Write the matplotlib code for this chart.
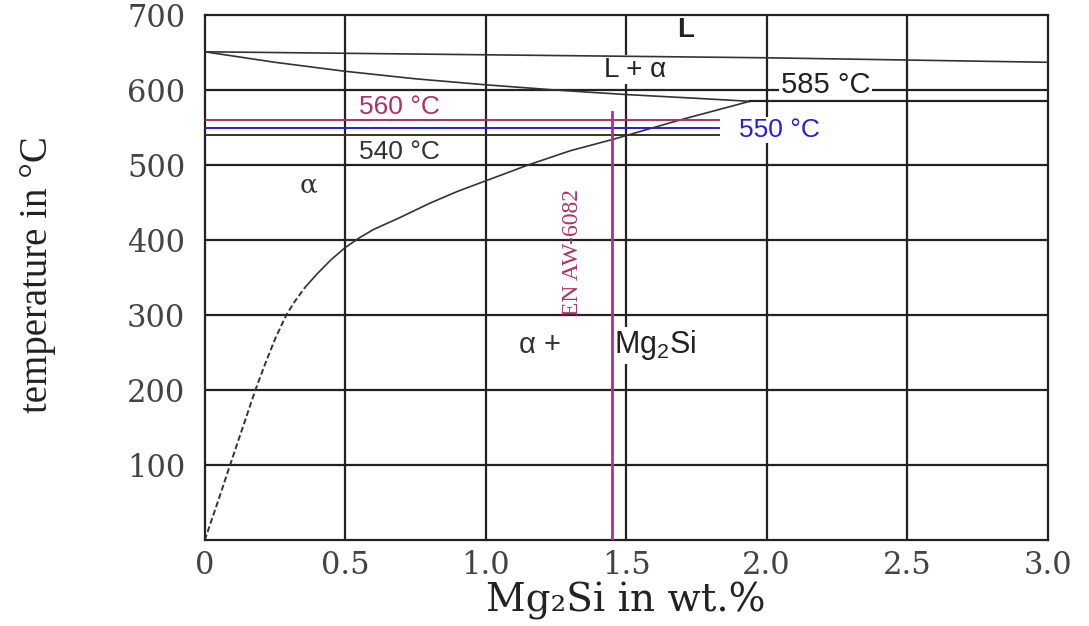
import numpy as np
import matplotlib.pyplot as plt

# data
liq_x = [0, 0.25, 0.5, 0.75, 1.0, 1.25, 1.5, 1.75, 1.94]
liq_t = [651, 637, 625, 615, 607, 600, 594, 589, 585]

top_x = [0, 0.5, 1.0, 2.0, 3.0]
top_t = [651, 649, 647, 643, 637]

solv_lo_x = [0, 0.05, 0.09, 0.135, 0.18, 0.215, 0.25, 0.29, 0.32, 0.357]
solv_lo_t = [0, 55, 100, 150, 200, 235, 268, 300, 318, 337]
solv_hi_x = [0.357, 0.4, 0.45, 0.5, 0.55, 0.6, 0.7, 0.8, 0.9, 1.0, 1.15, 1.3, 1.46, 1.69, 1.94]
solv_hi_t = [337, 355, 374, 390, 403, 414, 431, 449, 465, 479, 500, 519, 535, 560, 585]

eut_x = [1.94, 3.0]
eut_t = [585, 585]

temp_lines = [560, 550, 540]
temp_colors = ['#b0306a', '#2020e0', '#333333']
line_end = 1.83

alloy_x = 1.45
alloy_top = 571

xticks = [0, 0.5, 1.0, 1.5, 2.0, 2.5, 3.0]
xtick_labels = ['0', '0.5', '1.0', '1.5', '2.0', '2.5', '3.0']
yticks = [100, 200, 300, 400, 500, 600, 700]

sans = 'Liberation Sans'
plt.rcParams['mathtext.fontset'] = 'custom'
plt.rcParams['mathtext.rm'] = sans

fig = plt.figure(figsize=(10.89, 6.26), dpi=100)
ax = fig.add_axes([0.188, 0.137, 0.774, 0.839])
ax.set_xlim(0, 3)
ax.set_ylim(0, 700)

# grid
for x in xticks[1:-1]:
    ax.axvline(x, color='#222222', lw=1.6, zorder=1)
for y in yticks[:-1]:
    ax.axhline(y, color='#222222', lw=1.6, zorder=1)
for s in ax.spines.values():
    s.set_linewidth(1.6)
    s.set_color('#222222')

# phase boundaries
ax.plot(liq_x, liq_t, color='#333333', lw=1.2, zorder=3)
ax.plot(top_x, top_t, color='#333333', lw=1.2, zorder=3)
ax.plot(solv_lo_x, solv_lo_t, color='#333333', lw=1.4, ls=(0, (3, 1.5)), zorder=3)
ax.plot(solv_hi_x, solv_hi_t, color='#333333', lw=1.2, zorder=3)
ax.plot(eut_x, eut_t, color='#222222', lw=1.6, zorder=3)

# treatment temperatures
for t, c in zip(temp_lines, temp_colors):
    ax.plot([0, line_end], [t, t], color=c, lw=1.4, zorder=4)

# alloy line
ax.plot([alloy_x, alloy_x], [0, alloy_top], color='#b0308a', lw=2, zorder=4)
ax.text(1.31, 384, 'EN AW-6082', rotation=90, color='#b0306a', fontsize=17,
        family='Liberation Serif', ha='center', va='center', zorder=5)

bg = dict(facecolor='white', edgecolor='none', pad=1)
ax.text(0.55, 577, '560 °C', color='#b0306a', fontsize=19, family=sans, ha='left', va='center', zorder=5)
ax.text(0.55, 517, '540 °C', color='#333333', fontsize=19, family=sans, ha='left', va='center', zorder=5)
ax.text(1.9, 547, '550 °C', color='#2020e0', fontsize=19, family=sans, ha='left', va='center',
        bbox=bg, zorder=2)
ax.text(2.05, 607, '585 °C', color='#222222', fontsize=21, family=sans, ha='left', va='center',
        bbox=bg, zorder=2)
ax.text(1.71, 680, 'L', color='#222222', fontsize=20, family=sans, fontweight='bold',
        ha='center', va='center', zorder=5)
ax.text(1.53, 627, 'L + α', color='#222222', fontsize=20, family=sans, ha='center', va='center',
        bbox=bg, zorder=2)
ax.text(0.37, 473, 'α', color='#333333', fontsize=19, family='DejaVu Serif',
        ha='center', va='center', zorder=5)
ax.text(1.12, 260, 'α +', color='#333333', fontsize=21, family=sans, ha='left', va='center', zorder=5)
ax.text(1.455, 260, r'Mg$_2$Si', color='#222222', fontsize=22, family=sans, ha='left', va='center',
        bbox=bg, zorder=2)

ax.set_xticks(xticks)
ax.set_xticklabels(xtick_labels)
ax.set_yticks(yticks)
ax.tick_params(length=0, labelsize=22, labelcolor='#444444')
ax.tick_params(axis='y', pad=14)
ax.tick_params(axis='x', pad=7)
for lab in ax.get_xticklabels() + ax.get_yticklabels():
    lab.set_family('DejaVu Serif')

ax.set_xlabel('Mg₂Si in wt.%', fontsize=28, family='DejaVu Serif', labelpad=1, color='#222222')
ax.set_ylabel('temperature in °C', fontsize=28, family='Liberation Serif', color='#222222')
ax.yaxis.set_label_coords(-0.177, 0.505)

fig.savefig('out.png', dpi=100)
